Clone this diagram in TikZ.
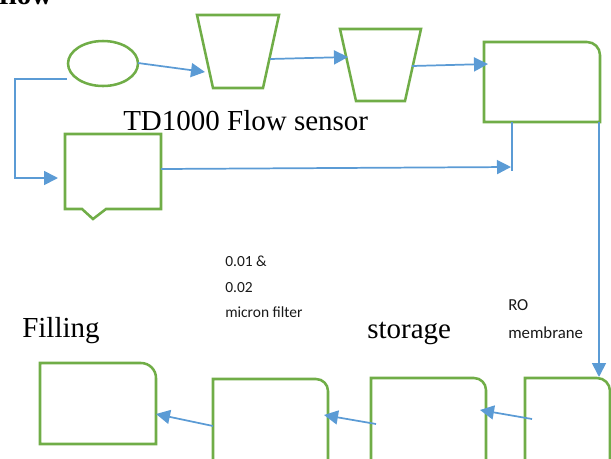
\documentclass[tikz,border=0pt]{standalone}
\usepackage{fontspec}
\setmainfont{Liberation Serif}
\newfontfamily\calibri{Carlito}
\usetikzlibrary{arrows.meta}
\definecolor{boxgreen}{RGB}{112,173,71}
\definecolor{pipeblue}{RGB}{91,155,213}

\begin{document}
\begin{tikzpicture}[x=0.75pt,y=0.75pt,yscale=-1,
  unit/.style={draw=boxgreen,line width=1.9pt},
  pipe/.style={draw=pipeblue,line width=1.3pt},
  feed/.style={pipe,-{Triangle[length=10.5pt,width=10.5pt]}},
  caption/.style={anchor=base west,inner sep=0pt,font=\fontsize{21.75}{26}\selectfont},
  note/.style={anchor=base west,inner sep=0pt,text=black!90,font=\calibri\fontsize{11.6}{19}\selectfont}]
\useasboundingbox (0,0) rectangle (611,458);

%Shape: Ellipse [source]
\draw [unit] (103,63.5) ellipse [x radius=35, y radius=22.5];
%Shape: Trapezoid [first sensor]
\draw [unit] (197,15) -- (279,15) -- (263,88) -- (213,88) -- cycle;
%Shape: Trapezoid [second sensor]
\draw [unit] (340,29) -- (421,29) -- (405,101) -- (356,101) -- cycle;
%Shape: Round Single Corner Rectangle [top right]
\draw [unit] (484,122) -- (484,42) -- (587,42) arc [start angle=-90, end angle=0, radius=13] -- (600,122) -- cycle;
%Shape: Off-page Connector
\draw [unit] (65,134) -- (161,134) -- (161,209) -- (106,209) -- (93,219) -- (82,209) -- (65,209) -- cycle;
%Shape: Round Single Corner Rectangle [bottom right]
\draw [unit] (525,470) -- (525,378) -- (597,378) arc [start angle=-90, end angle=0, radius=13] -- (610,470);
%Shape: Round Single Corner Rectangle [storage]
\draw [unit] (371,470) -- (371,378) -- (474,378) arc [start angle=-90, end angle=0, radius=12] -- (486,470);
%Shape: Round Single Corner Rectangle [micron filter]
\draw [unit] (213,470) -- (213,379) -- (316,379) arc [start angle=-90, end angle=0, radius=12] -- (328,470);
%Shape: Round Single Corner Rectangle [filling]
\draw [unit] (40,444) -- (40,363) -- (141,363) arc [start angle=-90, end angle=0, radius=15] -- (156,444) -- cycle;

% connector ends
\coordinate (srcW) at (67,79);
\coordinate (turnA) at (15,79);
\coordinate (turnB) at (15,178);
\coordinate (offW) at (58,178);
\coordinate (srcE) at (138,63);
\coordinate (sensAW) at (205,72);
\coordinate (sensAE) at (270,59);
\coordinate (sensBW) at (348,57);
\coordinate (sensBE) at (412,66);
\coordinate (topW) at (488,64);
\coordinate (stubT) at (512,122);
\coordinate (stubB) at (512,171);
\coordinate (offE) at (161,169);
\coordinate (stubW) at (511,167);
\coordinate (topSE) at (599,122);
\coordinate (roN) at (599,377);
\coordinate (roW) at (532,419);
\coordinate (storE) at (480,410);
\coordinate (storW) at (376,424);
\coordinate (filtE) at (324,415);
\coordinate (filtW) at (213,426);
\coordinate (fillE) at (156,414);

\draw [feed] (srcW) -- (turnA) -- (turnB) -- (offW);
\draw [feed] (srcE) -- (sensAW);
\draw [feed] (sensAE) -- (sensBW);
\draw [feed] (sensBE) -- (topW);
\draw [pipe] (stubT) -- (stubB);
\draw [feed] (offE) -- (stubW);
\draw [feed] (topSE) -- (roN);
\draw [feed] (roW) -- (storE);
\draw [feed] (storW) -- (filtE);
\draw [feed] (filtW) -- (fillE);

% Text Node
\node [caption,font=\bfseries\fontsize{21.75}{26}\selectfont] (titlelbl) at (-1,4) {flow};
% Text Node
\node [caption] (sensorlbl) at (123,130) {TD1000 Flow sensor};
% Text Node
\node [caption] (fillinglbl) at (22,337) {Filling};
% Text Node
\node [caption] (storagelbl) at (367,338) {storage};
% Text Node
\node [note] (filterA) at (225,266) {0.01 \&};
\node [note] (filterB) at (225,292) {0.02};
\node [note] (filterC) at (225,317) {micron filter};
% Text Node
\node [note,font=\calibri\fontsize{12.6}{19}\selectfont] (roA) at (508,310) {RO};
\node [note,font=\calibri\fontsize{12.6}{19}\selectfont] (roB) at (508,338) {membrane};

\end{tikzpicture}
\end{document}
